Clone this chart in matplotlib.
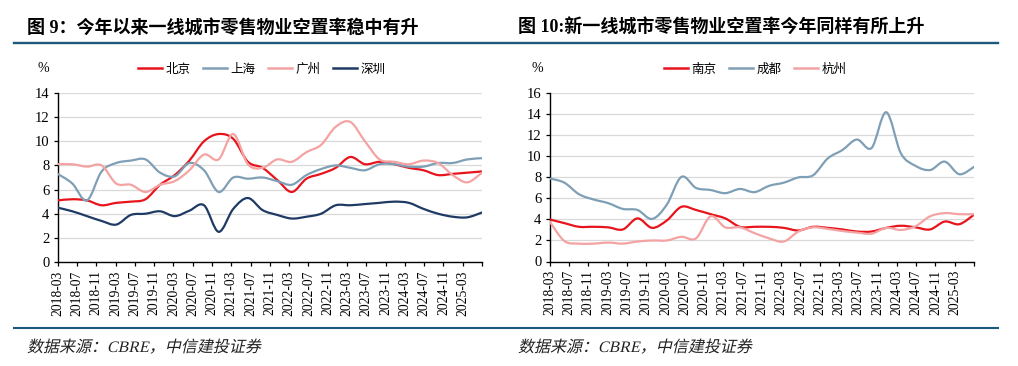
import numpy as np
import matplotlib
matplotlib.use("Agg")
import matplotlib.pyplot as plt
from matplotlib.path import Path
from matplotlib.patches import PathPatch
from matplotlib.lines import Line2D
from matplotlib.textpath import TextPath
from matplotlib.font_manager import FontProperties
from matplotlib.transforms import Affine2D

plt.rcParams['font.family'] = ['Liberation Serif', 'Noto Sans CJK SC', 'DejaVu Sans']

# ─── data: quarterly vacancy rate (%), 2018-03 .. 2025-06 ─────────
beijing = [5.1, 5.2, 5.1, 4.7, 4.9, 5.0, 5.2, 6.4, 7.2, 8.4,
           10.0, 10.6, 10.2, 8.3, 7.8, 6.8, 5.8, 6.9, 7.3, 7.8,
           8.7, 8.1, 8.3, 8.1, 7.8, 7.6, 7.2, 7.3, 7.4, 7.5]
shanghai = [7.3, 6.5, 5.1, 7.5, 8.2, 8.4, 8.5, 7.4, 7.1, 8.2,
            7.6, 5.8, 7.0, 6.9, 7.0, 6.7, 6.4, 7.2, 7.7, 8.0,
            7.8, 7.6, 8.1, 8.1, 7.9, 7.9, 8.2, 8.2, 8.5, 8.6]
guangzhou = [8.1, 8.1, 7.9, 8.0, 6.5, 6.4, 5.8, 6.4, 6.7, 7.6,
             8.9, 8.5, 10.6, 8.1, 7.8, 8.5, 8.3, 9.1, 9.7, 11.2,
             11.6, 10.0, 8.5, 8.3, 8.1, 8.4, 8.2, 7.2, 6.6, 7.4]
shenzhen = [4.5, 4.2, 3.8, 3.4, 3.1, 3.9, 4.0, 4.2, 3.8, 4.25,
            4.7, 2.5, 4.4, 5.3, 4.3, 3.9, 3.6, 3.75, 4.0, 4.7,
            4.7, 4.8, 4.9, 5.0, 4.9, 4.4, 4.0, 3.75, 3.7, 4.1]

nanjing = [4.0, 3.65, 3.3, 3.3, 3.25, 3.05, 4.1, 3.2, 3.9, 5.2,
           4.9, 4.5, 4.1, 3.3, 3.3, 3.3, 3.2, 2.95, 3.3, 3.2,
           3.05, 2.85, 2.85, 3.2, 3.4, 3.25, 3.05, 3.8, 3.55, 4.45]
chengdu = [7.9, 7.5, 6.4, 5.9, 5.55, 5.0, 4.9, 4.05, 5.4, 8.05,
           7.0, 6.8, 6.5, 6.9, 6.6, 7.2, 7.5, 8.0, 8.2, 9.8,
           10.6, 11.6, 10.8, 14.2, 10.3, 9.1, 8.7, 9.5, 8.3, 9.0]
hangzhou = [3.8, 1.95, 1.7, 1.7, 1.8, 1.7, 1.9, 2.0, 2.0, 2.35,
            2.2, 4.3, 3.25, 3.25, 2.7, 2.2, 1.9, 2.85, 3.25, 3.1,
            2.9, 2.75, 2.65, 3.2, 3.0, 3.35, 4.3, 4.6, 4.5, 4.5]

tick_labels = ["2018-03", "2018-07", "2018-11", "2019-03", "2019-07", "2019-11",
               "2020-03", "2020-07", "2020-11", "2021-03", "2021-07", "2021-11",
               "2022-03", "2022-07", "2022-11", "2023-03", "2023-07", "2023-11",
               "2024-03", "2024-07", "2024-11", "2025-03", ""]

RED = "#e8141c"
GREYBLUE = "#7f9fb6"
PINK = "#f4a3a3"
NAVY = "#1f3a64"
RULE = "#1c5a7d"

W, H = 1018, 366


def smooth_path(x, y):
    """Excel-style smoothed line: cubic Bezier through every point."""
    pts = np.column_stack([x, y])
    n = len(pts)
    verts, codes = [pts[0]], [Path.MOVETO]
    for i in range(n - 1):
        p0 = pts[max(i - 1, 0)]
        p1 = pts[i]
        p2 = pts[i + 1]
        p3 = pts[min(i + 2, n - 1)]
        verts += [p1 + (p2 - p0) / 6, p2 - (p3 - p1) / 6, p2]
        codes += [Path.CURVE4] * 3
    return Path(verts, codes)


def draw_panel(ax, series, ymax, ystep):
    x = np.linspace(0, 88, len(series[0][1]))
    for name, vals, color in series:
        ax.add_patch(PathPatch(smooth_path(x, vals), fill=False,
                               edgecolor=color, lw=1.6, capstyle="round",
                               joinstyle="round", zorder=3))
    ax.set_xlim(0, 88)
    ax.set_ylim(0, ymax)
    ax.set_yticks(np.arange(0, ymax + 0.1, ystep))
    ax.set_xticks(np.arange(0, 89, 4))
    ax.set_xticklabels(tick_labels, rotation=90, fontsize=9.8,
                       family="Liberation Serif")
    for lab in ax.get_yticklabels():
        lab.set_fontsize(10.5)
        lab.set_family("Liberation Serif")
    ax.grid(axis="y", color="#d9d9d9", lw=0.9, zorder=0)
    ax.set_axisbelow(True)
    for s in ("top", "right"):
        ax.spines[s].set_visible(False)
    for s in ("left", "bottom"):
        ax.spines[s].set_color("black")
        ax.spines[s].set_linewidth(1.0)
    ax.tick_params(axis="both", direction="out", length=3, width=0.9,
                   pad=3, colors="black")


fig = plt.figure(figsize=(W / 100, H / 100), dpi=100)

ax1 = fig.add_axes([57.7 / W, 1 - 262 / H, (482 - 57.7) / W, (262 - 93) / H])
ax2 = fig.add_axes([549.7 / W, 1 - 261.5 / H, (974 - 549.7) / W, (261.5 - 93.3) / H])

left_series = [("北京", beijing, RED), ("上海", shanghai, GREYBLUE),
               ("广州", guangzhou, PINK), ("深圳", shenzhen, NAVY)]
right_series = [("南京", nanjing, RED), ("成都", chengdu, GREYBLUE),
                ("杭州", hangzhou, PINK)]

draw_panel(ax1, left_series, 14, 2)
draw_panel(ax2, right_series, 16, 2)

# legends
for series, cx in ((left_series, 262), (right_series, 755)):
    handles = [Line2D([], [], color=c, lw=1.8) for _, _, c in series]
    fig.legend(handles, [n for n, _, _ in series], loc="center",
               bbox_to_anchor=(cx / W, 1 - 69 / H), ncol=len(series),
               frameon=False, handlelength=1.9,
               handletextpad=0.3, columnspacing=1.0,
               prop={"family": ["Noto Sans CJK SC"], "size": 9})

# unit labels
fig.text(43 / W, 1 - 69 / H, "%", ha="center", va="center", fontsize=10)
fig.text(537 / W, 1 - 69 / H, "%", ha="center", va="center", fontsize=10)

# titles
fig.text(27 / W, 1 - 28 / H, "图 9：今年以来一线城市零售物业空置率稳中有升",
         ha="left", va="center", fontsize=13, fontweight="bold")
fig.text(518 / W, 1 - 28 / H, "图 10:新一线城市零售物业空置率今年同样有所上升",
         ha="left", va="center", fontsize=13, fontweight="bold")

# rules
fig.add_artist(Line2D([14 / W, 998 / W], [1 - 42.8 / H] * 2,
                      transform=fig.transFigure, color=RULE, lw=1.7))
fig.add_artist(Line2D([14 / W, 998 / W], [1 - 328.3 / H] * 2,
                      transform=fig.transFigure, color=RULE, lw=1.5))

# sources, slanted like the italic original (CJK font has no italic face)
src_prop = FontProperties(family=["Liberation Serif", "Noto Sans CJK SC"])
for sx in (27, 518):
    tp = TextPath((0, 0), "数据来源：CBRE，中信建投证券", size=16, prop=src_prop)
    tr = Affine2D().skew_deg(13, 0).translate(sx, H - 352)
    fig.add_artist(PathPatch(tp, transform=tr, facecolor="#222222",
                             edgecolor="none"))

fig.savefig("out.png", dpi=100)
